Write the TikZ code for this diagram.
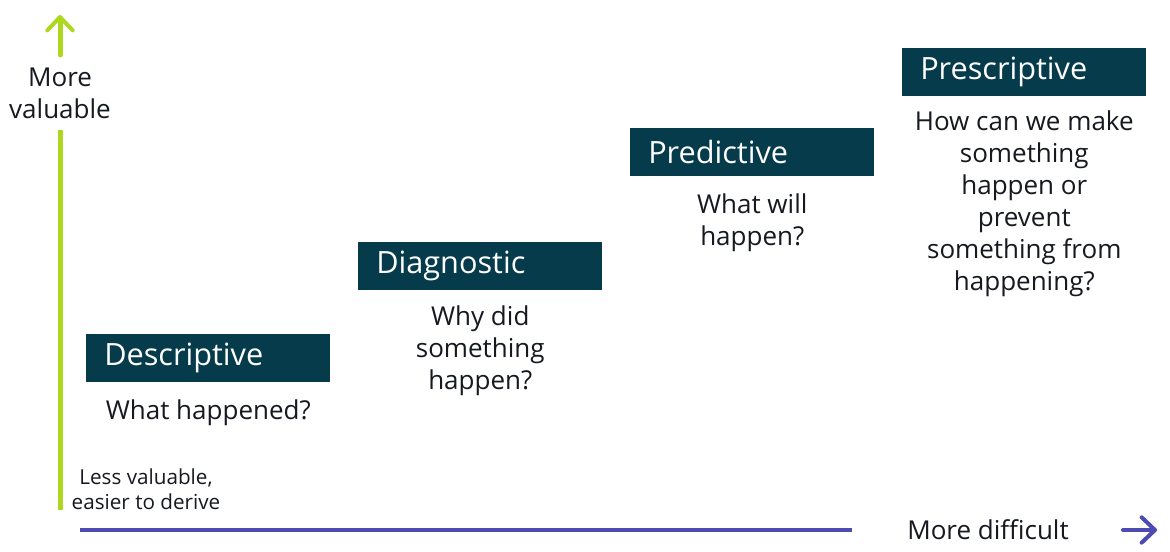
\documentclass[tikz,border=0pt]{standalone}
\usepackage{fontspec}
\setmainfont{Open Sans}
\usetikzlibrary{arrows.meta,calc}
\definecolor{lime}{HTML}{AED81E}
\definecolor{axisblue}{HTML}{4B4BB2}
\definecolor{boxteal}{HTML}{053B4B}
\definecolor{ink}{HTML}{16191F}
\tikzset{
  titlebox/.style={fill=boxteal, text=white, anchor=north west, minimum width=183pt, minimum height=36pt,
    inner xsep=13.5pt, inner ysep=0pt, text width=156pt, align=left, font=\fontsize{23}{24}\selectfont},
  caption/.style={text=ink, anchor=north, inner sep=0pt, align=center, font=\fontsize{19.5}{24}\selectfont},
  axislabel/.style={text=ink, align=center, inner sep=0pt, font=\fontsize{19.5}{24}\selectfont},
  smalllabel/.style={text=ink, align=center, inner sep=0pt, font=\fontsize{15.5}{18.75}\selectfont},
  vaxis/.style={draw=lime, line width=3.75pt},
  haxis/.style={draw=axisblue, line width=3pt},
  barb/.style={-{Straight Barb[length=10pt, width=19pt, line width=3pt, round]}, line cap=round},
}
\begin{document}
\begin{tikzpicture}[x=0.75pt, y=-0.75pt]
\useasboundingbox[fill=white] (0,0) rectangle (1170,552);
% vertical axis
\coordinate (vtip) at (60,15);
\coordinate (vtop) at (60,55);
\node[axislabel] (vlab) at (60,93) {More\\valuable};
\coordinate (vbot) at (60,510);
\draw[vaxis, barb] (vtop) -- (vtip);
\draw[vaxis] (60,130) -- (vbot);
% horizontal axis
\coordinate (hstart) at (80,530);
\coordinate (hend) at (852,530);
\draw[haxis] (hstart) -- (hend);
\node[axislabel] (hlab) at (988,530) {More difficult};
\coordinate (hatail) at (1123,530);
\coordinate (hatip) at (1157,530);
\draw[haxis, barb] (hatail) -- (hatip);
\node[smalllabel] (less) at (146,489) {Less valuable,\\easier to derive};
% boxes
\node[titlebox] (desc) at (86,334) {Descriptive};
\node[titlebox] (diag) at (358,242) {Diagnostic};
\node[titlebox] (pred) at (630,128) {Predictive};
\node[titlebox] (pres) at (902,48) {Prescriptive};
% captions
\node[caption] (descq) at ($(desc.south)+(0,17)$) {What happened?};
\node[caption] (diagq) at ($(diag.south)+(0,15)$) {Why did\\something\\happen?};
\node[caption] (predq) at ($(pred.south)+(0,17)$) {What will\\happen?};
\node[caption] (presq) at ($(pres.south)+(0,14)$) {How can we make\\something\\happen or\\prevent\\something from\\happening?};
\end{tikzpicture}
\end{document}
